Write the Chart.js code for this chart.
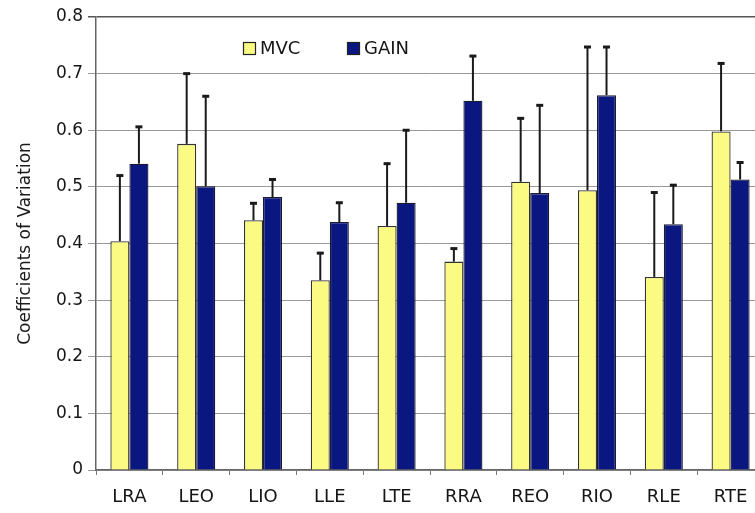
<!DOCTYPE html>
<html>
<head>
<meta charset="utf-8">
<script src="https://cdn.jsdelivr.net/npm/chart.js@4/dist/chart.umd.min.js"></script>
<style>
  html, body { margin: 0; padding: 0; background: #fff; overflow: hidden; }
  #wrap { width: 770px; height: 513px; }
</style>
</head>
<body>
<div id="wrap"><canvas id="cvChart" width="770" height="513"></canvas></div>
<script>
// Muscles
const categories = ['LRA', 'LEO', 'LIO', 'LLE', 'LTE', 'RRA', 'REO', 'RIO', 'RLE', 'RTE']

// Mean coefficients of variation
const mvcValues = [0.404, 0.576, 0.441, 0.335, 0.431, 0.368, 0.509, 0.494, 0.341, 0.598]
const gainValues = [0.541, 0.501, 0.482, 0.438, 0.472, 0.652, 0.489, 0.662, 0.434, 0.513]

// Standard deviations (upper error bars only)
const mvcSd = [0.116, 0.124, 0.030, 0.048, 0.110, 0.023, 0.112, 0.253, 0.149, 0.120]
const gainSd = [0.065, 0.159, 0.031, 0.034, 0.128, 0.079, 0.155, 0.085, 0.069, 0.030]

const yMin = 0
const yMax = 0.8
const yStep = 0.1

const FONT = '"DejaVu Sans", Arial, sans-serif'

// Draws the upward error bars on top of each bar
const errorBars = {
  id: 'errorBars',
  afterDatasetsDraw(chart) {
    const ctx = chart.ctx
    const y = chart.scales.y
    ctx.save()
    ctx.strokeStyle = '#1a1a1a'
    chart.data.datasets.forEach((ds, di) => {
      const meta = chart.getDatasetMeta(di)
      meta.data.forEach((bar, i) => {
        const top = y.getPixelForValue(ds.data[i] + ds.errors[i])
        ctx.lineWidth = 2
        ctx.beginPath()
        ctx.moveTo(bar.x, bar.y)
        ctx.lineTo(bar.x, top)
        ctx.stroke()
        ctx.lineWidth = 3
        ctx.beginPath()
        ctx.moveTo(bar.x - 3.5, top)
        ctx.lineTo(bar.x + 3.5, top)
        ctx.stroke()
      })
    })
    ctx.restore()
  }
}

// Legend drawn inside the plot area
const innerLegend = {
  id: 'innerLegend',
  afterDraw(chart) {
    const ctx = chart.ctx
    const spots = [243, 347]
    ctx.save()
    ctx.font = '18px ' + FONT
    ctx.textBaseline = 'middle'
    chart.data.datasets.forEach((ds, i) => {
      const x = spots[i]
      ctx.fillStyle = ds.backgroundColor
      ctx.fillRect(x, 42, 12, 12)
      ctx.strokeStyle = '#222'
      ctx.lineWidth = 1.2
      ctx.strokeRect(x + 0.5, 42.5, 12, 12)
      ctx.fillStyle = '#151515'
      ctx.fillText(ds.label, x + 17, 49)
    })
    ctx.restore()
  }
}

new Chart(document.getElementById('cvChart'), {
  type: 'bar',
  data: {
    labels: categories,
    datasets: [
      {
        label: 'MVC',
        data: mvcValues,
        errors: mvcSd,
        backgroundColor: '#fbfb84',
        borderColor: '#333',
        borderWidth: 1.3,
        borderSkipped: 'bottom',
        categoryPercentage: 0.57,
        barPercentage: 1.0
      },
      {
        label: 'GAIN',
        data: gainValues,
        errors: gainSd,
        backgroundColor: '#0b1780',
        borderColor: '#1a1a30',
        borderWidth: 1.3,
        borderSkipped: 'bottom',
        categoryPercentage: 0.57,
        barPercentage: 1.0
      }
    ]
  },
  options: {
    responsive: false,
    animation: false,
    layout: {
      padding: { top: 17, right: 6, bottom: 0, left: 0 }
    },
    plugins: {
      legend: { display: false },
      tooltip: { enabled: false }
    },
    scales: {
      x: {
        grid: {
          offset: true,
          drawOnChartArea: false,
          drawTicks: true,
          tickLength: 5,
          color: '#777'
        },
        border: { display: true, color: '#666', width: 1.5 },
        ticks: {
          color: '#151515',
          padding: 12,
          maxRotation: 0,
          font: { family: FONT, size: 18 }
        },
        afterFit(scale) {
          scale.height = 43
        }
      },
      y: {
        min: yMin,
        max: yMax,
        grid: {
          color: (c) => (c.tick && c.tick.value >= yMax - 1e-9 ? '#555' : '#999'),
          lineWidth: (c) => (c.tick && c.tick.value >= yMax - 1e-9 ? 1.5 : 1),
          tickLength: 8
        },
        border: { display: true, color: '#666', width: 1.5 },
        ticks: {
          stepSize: yStep,
          color: '#151515',
          padding: 5,
          font: { family: FONT, size: 17 },
          callback: (v) => (v === 0 ? '0' : Number(v).toFixed(1))
        },
        title: {
          display: true,
          text: 'Coefficients of Variation',
          color: '#1a1a1a',
          font: { family: FONT, size: 17 },
          padding: { top: 15, bottom: 0 }
        },
        afterFit(scale) {
          scale.width = 96
        }
      }
    }
  },
  plugins: [errorBars, innerLegend]
})
</script>
</body>
</html>
